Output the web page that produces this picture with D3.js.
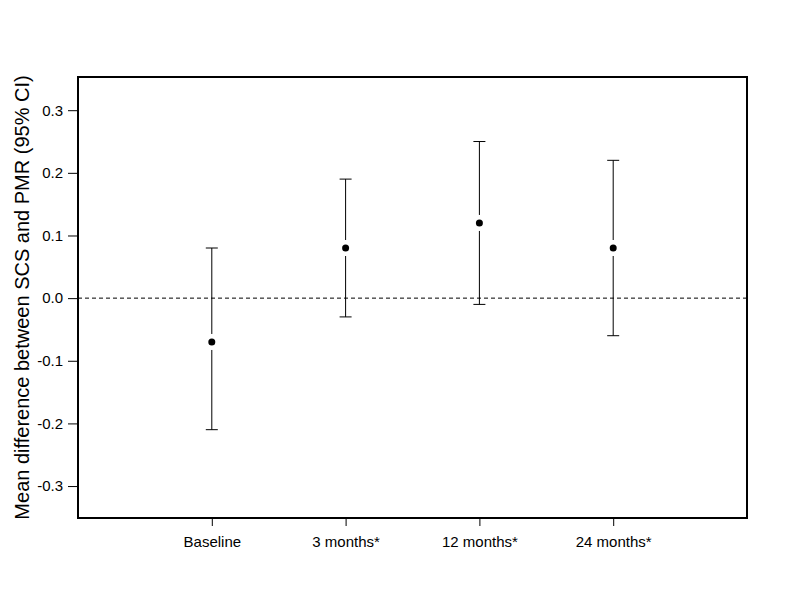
<!DOCTYPE html>
<html>
<head>
<meta charset="utf-8">
<script src="https://cdn.jsdelivr.net/npm/d3@7"></script>
<style>
  body { margin: 0; background: #fff; }
  text { font-family: "Liberation Sans", Arial, sans-serif; fill: #000; }
</style>
</head>
<body>
<svg id="chart"></svg>
<script>
const timepoints = ["Baseline", "3 months*", "12 months*", "24 months*"];
const meanDiff = [-0.07, 0.08, 0.12, 0.08];
const lowerCI = [-0.21, -0.03, -0.01, -0.06];
const upperCI = [0.08, 0.19, 0.25, 0.22];
const yTicks = [-0.3, -0.2, -0.1, 0.0, 0.1, 0.2, 0.3];

const margin = { top: 77, right: 45, bottom: 93, left: 78 },
  width = 792 - margin.left - margin.right,
  height = 611 - margin.top - margin.bottom;

const svg = d3.select("#chart")
  .attr("width", 792)
  .attr("height", 611);

const chart = svg.append("g")
  .attr("transform", `translate(${margin.left},${margin.top})`);

const data = timepoints.map((t, i) => ({
  label: t, idx: i + 1, mean: meanDiff[i], lo: lowerCI[i], hi: upperCI[i]
}));

const x = d3.scaleLinear().domain([0, 5]).range([0, width]);
const y = d3.scaleLinear().domain([-0.351, 0.353]).range([height, 0]);

// Zero reference line
chart.append("line")
  .attr("x1", 0).attr("x2", width)
  .attr("y1", y(0)).attr("y2", y(0))
  .attr("stroke", "#000")
  .attr("stroke-width", 1)
  .attr("stroke-dasharray", "4,3");

// Y axis (hyphen minus like the original)
const fmt = d3.format(".1f");
const yAxis = chart.append("g")
  .call(d3.axisLeft(y).tickValues(yTicks)
    .tickFormat(d => fmt(d).replace("\u2212", "-")).tickSize(10).tickPadding(5));
yAxis.select(".domain").remove();
yAxis.selectAll("text").style("font-size", "15px");

// X axis
const xAxis = chart.append("g")
  .attr("transform", `translate(0,${height})`)
  .call(d3.axisBottom(x).tickValues(data.map(d => d.idx))
    .tickFormat((d, i) => timepoints[i]).tickSize(8).tickPadding(10));
xAxis.select(".domain").remove();
xAxis.selectAll("text").style("font-size", "15px");

// Frame
chart.append("rect")
  .attr("x", 0).attr("y", 0)
  .attr("width", width).attr("height", height)
  .attr("fill", "none")
  .attr("stroke", "#000")
  .attr("stroke-width", 2);

// Error bars
const gap = 8, cap = 6;
const bars = chart.selectAll(".err")
  .data(data)
  .enter()
  .append("g")
  .attr("class", "err");

bars.append("line")
  .attr("x1", d => x(d.idx)).attr("x2", d => x(d.idx))
  .attr("y1", d => y(d.hi)).attr("y2", d => y(d.mean) - gap)
  .attr("stroke", "#000");
bars.append("line")
  .attr("x1", d => x(d.idx)).attr("x2", d => x(d.idx))
  .attr("y1", d => y(d.mean) + gap).attr("y2", d => y(d.lo))
  .attr("stroke", "#000");
bars.append("line")
  .attr("x1", d => x(d.idx) - cap).attr("x2", d => x(d.idx) + cap)
  .attr("y1", d => y(d.hi)).attr("y2", d => y(d.hi))
  .attr("stroke", "#000");
bars.append("line")
  .attr("x1", d => x(d.idx) - cap).attr("x2", d => x(d.idx) + cap)
  .attr("y1", d => y(d.lo)).attr("y2", d => y(d.lo))
  .attr("stroke", "#000");
bars.append("circle")
  .attr("cx", d => x(d.idx))
  .attr("cy", d => y(d.mean))
  .attr("r", 3.5)
  .attr("fill", "#000");

// Y axis title
svg.append("text")
  .attr("transform", `translate(29,${margin.top + height / 2}) rotate(-90)`)
  .attr("text-anchor", "middle")
  .style("font-size", "20px")
  .text("Mean difference between SCS and PMR (95% CI)");
</script>
</body>
</html>
